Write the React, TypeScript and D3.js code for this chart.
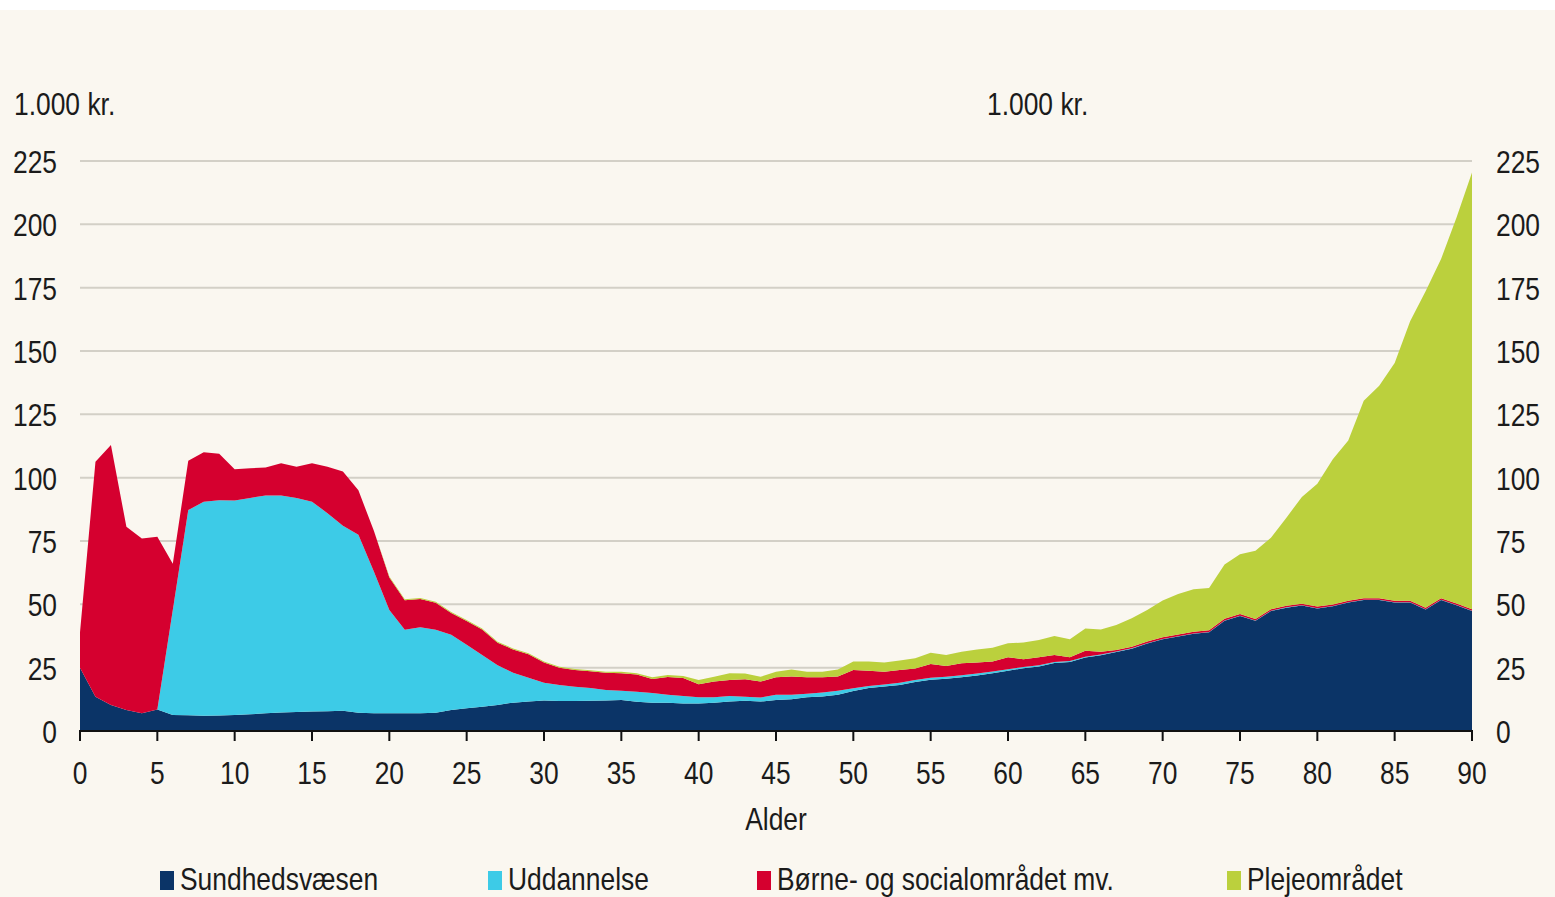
import React from 'react';
import * as d3 from 'd3';

// ages 0..90
const ages = d3.range(0, 91);

const sundhed = [
  25, 13.5, 10.3, 8.3, 7, 8.5, 6.3, 6.2, 6, 6.1,
  6.3, 6.6, 7, 7.3, 7.5, 7.7, 7.8, 8, 7.2, 7,
  7, 7, 7, 7.2, 8.3, 9, 9.6, 10.3, 11.2, 11.6,
  12, 11.8, 11.8, 11.9, 12, 12.2, 11.5, 11.2, 11.2, 10.9,
  10.9, 11.2, 11.6, 11.9, 11.6, 12.2, 12.5, 13.3, 13.6, 14.3,
  15.8, 17, 17.6, 18.2, 19.3, 20.2, 20.6, 21.2, 21.9, 22.8,
  23.8, 24.8, 25.5, 26.8, 27.2, 29, 29.9, 31.2, 32.5, 34.5,
  36.2, 37.3, 38.4, 39, 43.5, 45.4, 43.5, 47.4, 48.7, 49.5,
  48.4, 49.2, 50.7, 51.7, 51.7, 50.7, 50.7, 48, 51.7, 49.6,
  47.4,
];

const uddannelse = [
  0, 0, 0, 0, 0, 0, 41.5, 81, 84.5, 85,
  84.7, 85.4, 86, 85.7, 84.5, 82.8, 78.2, 73, 70.3, 56,
  40.8, 33, 34, 32.8, 29.7, 25, 20.4, 15.7, 11.8, 9.4,
  7, 6.4, 5.7, 5.1, 4.2, 3.7, 4, 3.8, 3.1, 2.9,
  2.4, 2.1, 2.2, 1.6, 1.6, 2.1, 1.8, 1.4, 1.6, 1.6,
  1.1, 0.8, 0.8, 0.8, 0.8, 0.8, 0.8, 0.8, 0.8, 0.7,
  0.6, 0.5, 0.5, 0.4, 0.4, 0.3, 0.3, 0.2, 0.2, 0.1,
  0.1, 0.1, 0.1, 0.1, 0.1, 0.1, 0.1, 0.1, 0.1, 0.1,
  0.1, 0.1, 0.1, 0.1, 0.1, 0.1, 0.1, 0.1, 0.1, 0.1,
  0.1,
];

const boerne = [
  14, 92.8, 102.6, 72.3, 69, 68.2, 18.2, 19.5, 19.5, 18.3,
  12.3, 11.7, 11, 12.7, 12.3, 15.2, 18.3, 21.4, 17.5, 16,
  12.8, 11.6, 11.1, 10.6, 8.6, 9.4, 10.1, 8.8, 9.2, 9.3,
  8, 6.8, 6.6, 6.6, 6.8, 6.9, 6.8, 5.5, 7, 7.1,
  5.2, 6.2, 6.3, 6.9, 6.3, 6.9, 7.2, 6.5, 6, 5.6,
  7.2, 6, 5, 5.1, 4.6, 5.4, 4.3, 4.7, 4.3, 3.9,
  4.7, 3, 3.1, 2.8, 1.5, 2.4, 1.1, 0.6, 0.6, 0.7,
  0.7, 0.7, 0.7, 0.7, 0.7, 0.7, 0.6, 0.6, 0.6, 0.6,
  0.6, 0.6, 0.6, 0.6, 0.6, 0.6, 0.6, 0.6, 0.6, 0.6,
  0.6,
];

const pleje = [
  0, 0, 0, 0, 0, 0, 0, 0, 0, 0,
  0, 0, 0, 0, 0, 0, 0, 0, 0, 0,
  0.4, 0.4, 0.4, 0.4, 0.4, 0.4, 0.4, 0.4, 0.4, 0.4,
  0.4, 0.4, 0.4, 0.4, 0.4, 0.6, 0.5, 0.7, 0.8, 0.8,
  1.6, 1.9, 2.7, 2.3, 1.9, 2.2, 2.8, 2.2, 2.2, 2.8,
  3.3, 3.6, 3.6, 3.7, 4, 4.5, 4.3, 4.6, 5.2, 5.5,
  5.5, 6.6, 6.8, 7.5, 7.1, 8.8, 8.8, 9.8, 11.2, 12.5,
  14.5, 16, 16.8, 16.6, 21.4, 23.6, 27, 28.2, 34.8, 42.2,
  48.5, 57.4, 63.3, 78, 83.9, 93.9, 110.3, 124.9, 133.9, 152.4,
  172.4,
];

const seriesNames = ['Sundhedsvæsen', 'Uddannelse', 'Børne- og socialområdet mv.', 'Plejeområdet'];
const seriesColors = ['#0b3467', '#3dcbe7', '#d5002f', '#bbd03d'];
const yTicks = [0, 25, 50, 75, 100, 125, 150, 175, 200, 225];
const xTicks = d3.range(0, 91, 5);

const W = 1555;
const H = 897;
const FONT = "'Liberation Sans', Arial, sans-serif";
const SX = 0.825;

function Txt({ x, y, anchor = 'start', size = 32, children }) {
  return (
    <text
      transform={`translate(${x},${y}) scale(${SX},1)`}
      textAnchor={anchor}
      fontSize={size}
      fontFamily={FONT}
      fill="#1b1b1b"
    >
      {children}
    </text>
  );
}

export default function App() {
  const x = d3.scaleLinear().domain([0, 90]).range([80, 1472]);
  const y = d3.scaleLinear().domain([0, 225]).range([731, 161]);

  const rows = ages.map((a, i) => ({
    age: a,
    s0: sundhed[i],
    s1: uddannelse[i],
    s2: boerne[i],
    s3: pleje[i],
  }));
  const stack = d3.stack().keys(['s0', 's1', 's2', 's3']);
  const layers = stack(rows);
  const area = d3
    .area()
    .x((d) => x(d.data.age))
    .y0((d) => y(d[0]))
    .y1((d) => y(d[1]));

  const legendX = [160, 488, 757, 1227];

  return (
    <svg width={W} height={H} style={{ position: 'absolute', left: 0, top: 0 }}>
      <rect x={0} y={0} width={W} height={H} fill="#faf7f0" />
      <rect x={0} y={0} width={W} height={10} fill="#ffffff" />

      {yTicks.filter((t) => t > 0).map((t) => (
        <line key={t} x1={80} x2={1472} y1={y(t)} y2={y(t)} stroke="#d3d0c7" strokeWidth={2} />
      ))}

      {layers.map((l, i) => (
        <path key={i} d={area(l)} fill={seriesColors[i]} />
      ))}

      <line x1={79} x2={1473} y1={y(0)} y2={y(0)} stroke="#111" strokeWidth={2} />
      {xTicks.map((t) => (
        <line key={t} x1={x(t)} x2={x(t)} y1={y(0)} y2={y(0) + 10} stroke="#111" strokeWidth={2} />
      ))}

      {xTicks.map((t) => (
        <Txt key={t} x={x(t)} y={784} anchor="middle">{t}</Txt>
      ))}
      {yTicks.map((t) => (
        <Txt key={'l' + t} x={57} y={y(t) + 12} anchor="end">{t}</Txt>
      ))}
      {yTicks.map((t) => (
        <Txt key={'r' + t} x={1496} y={y(t) + 12} anchor="start">{t}</Txt>
      ))}

      <Txt x={14} y={115}>1.000 kr.</Txt>
      <Txt x={987} y={115}>1.000 kr.</Txt>
      <Txt x={776} y={830} anchor="middle">Alder</Txt>

      {seriesNames.map((n, i) => (
        <g key={n}>
          <rect x={legendX[i]} y={871} width={14} height={19} fill={seriesColors[i]} />
          <Txt x={legendX[i] + 20} y={890}>{n}</Txt>
        </g>
      ))}
    </svg>
  );
}
